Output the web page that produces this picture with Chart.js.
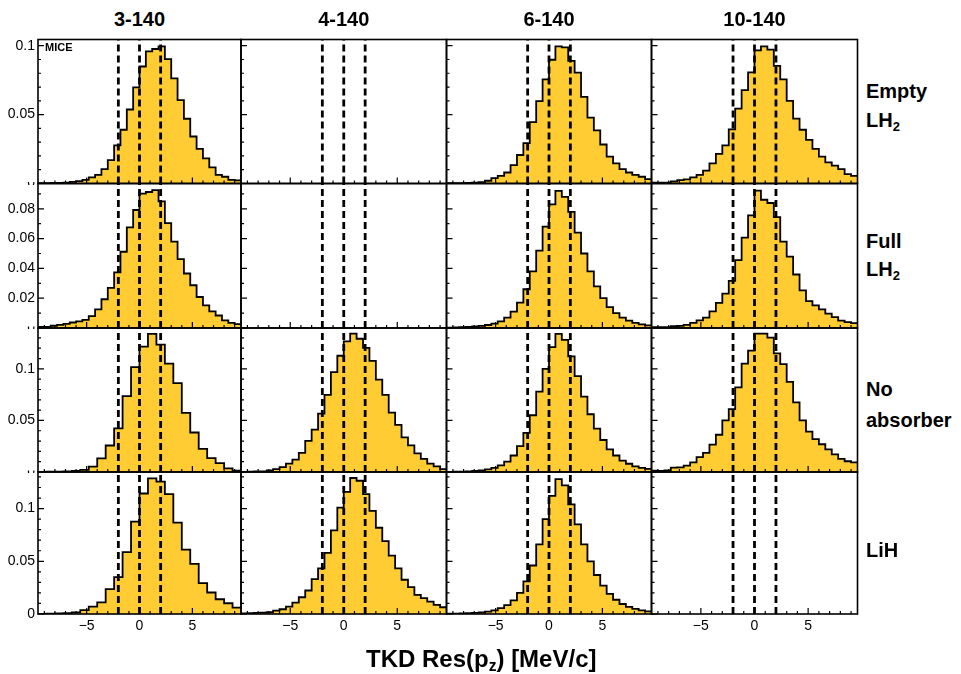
<!DOCTYPE html>
<html><head><meta charset="utf-8">
<script src="https://cdn.jsdelivr.net/npm/chart.js@4.4.1/dist/chart.umd.min.js"></script>
<style>
html,body{margin:0;padding:0;background:#fff;}
#root{position:relative;width:961px;height:674px;overflow:hidden;background:#fff;font-family:"Liberation Sans",Arial,Helvetica,sans-serif;}
canvas{position:absolute;}
.t{position:absolute;font-weight:bold;color:#000;white-space:nowrap;line-height:1;}
.sub{font-size:0.65em;position:relative;top:0.3em;}
</style></head><body><div id="root"></div>
<script>
// ---------------- data ----------------
const columnTitles = ['3-140', '4-140', '6-140', '10-140'];
const rowTitles = [['Empty', 'LH<span class="sub">2</span>'], ['Full', 'LH<span class="sub">2</span>'], ['No', 'absorber'], ['LiH']];
const xAxisTitle = 'TKD Res(p<span class="sub">z</span>) [MeV/c]';
const xRange = [-9.6, 9.6];
const xTickValues = [-5, 0, 5];
const cutValues = [-2, 0, 2];
const yMaxPerRow = [0.1045, 0.097, 0.1396, 0.1347];
const yTicksRow1 = [0, 0.05, 0.1];
const yTicksRow2 = [0, 0.02, 0.04, 0.06, 0.08];
const yTicksRow3 = [0, 0.05, 0.1];
const yTicksRow4 = [0, 0.05, 0.1];
const yMinorStep = [0.01, 0.01, 0.01, 0.01];

// Empty LH2
const empty_3_140 = [0.0002,0.0003,0.0004,0.0005,0.0007,0.0012,0.0017,0.0027,0.0044,0.0063,0.0105,0.017,0.0276,0.039,0.0537,0.0698,0.0849,0.0959,0.0976,0.0995,0.0902,0.0763,0.0605,0.047,0.0341,0.0251,0.0183,0.0117,0.0063,0.0049,0.0027,0.0022];
const empty_6_140 = [0.0002,0.0002,0.0003,0.0005,0.0007,0.001,0.002,0.0039,0.0056,0.008,0.0134,0.0207,0.0293,0.0446,0.0598,0.0756,0.0898,0.0995,0.0988,0.089,0.0805,0.0629,0.0478,0.0385,0.0283,0.0195,0.0146,0.0105,0.008,0.0063,0.0049,0.0032];
const empty_10_140 = [0.0007,0.0006,0.0007,0.0015,0.0024,0.003,0.0044,0.0063,0.0093,0.0146,0.0215,0.0276,0.0393,0.0544,0.0678,0.0807,0.0966,0.0995,0.0971,0.0854,0.0756,0.06,0.0471,0.039,0.0317,0.0251,0.0195,0.0154,0.0129,0.0105,0.0068,0.0056];
// Full LH2
const full_3_140 = [0.0008,0.0008,0.0015,0.0021,0.0028,0.0037,0.0044,0.0055,0.008,0.0125,0.0193,0.0269,0.0373,0.0512,0.0675,0.0792,0.0902,0.0913,0.0925,0.085,0.0704,0.058,0.0463,0.0366,0.0287,0.0208,0.0152,0.0111,0.0084,0.0051,0.0035,0.0026];
const full_6_140 = [0.0003,0.0004,0.0005,0.0007,0.001,0.0014,0.002,0.003,0.0045,0.007,0.011,0.017,0.026,0.038,0.052,0.068,0.083,0.092,0.088,0.078,0.064,0.05,0.038,0.028,0.02,0.014,0.01,0.007,0.005,0.0035,0.0025,0.0018];
const full_10_140 = [0.0005,0.0005,0.0006,0.0012,0.0014,0.0021,0.0035,0.0051,0.0069,0.0111,0.0168,0.0231,0.0316,0.0456,0.0607,0.0756,0.0922,0.0861,0.0839,0.0744,0.058,0.0479,0.0359,0.0253,0.0181,0.0152,0.0125,0.0096,0.0073,0.005,0.0039,0.0033];
// No absorber
const noabs_3_140 = [0.0002,0.0003,0.0004,0.0006,0.001,0.002,0.0053,0.0132,0.0257,0.0422,0.0736,0.1017,0.1215,0.134,0.1234,0.105,0.0861,0.0574,0.0383,0.0224,0.0135,0.0086,0.0036,0.0013];
const noabs_4_140 = [0.0002,0.0003,0.0005,0.0007,0.0015,0.0028,0.0048,0.0081,0.012,0.0186,0.0302,0.0411,0.0566,0.0748,0.0969,0.1127,0.1266,0.1342,0.1292,0.1203,0.1078,0.0896,0.0748,0.0576,0.0457,0.0335,0.0259,0.018,0.0127,0.0081,0.0054,0.0028];
const noabs_6_140 = [0.0002,0.0003,0.0004,0.0006,0.001,0.0016,0.0025,0.004,0.0065,0.01,0.016,0.025,0.038,0.055,0.078,0.1,0.121,0.134,0.128,0.112,0.093,0.073,0.056,0.042,0.031,0.022,0.016,0.011,0.008,0.0055,0.004,0.003];
const noabs_10_140 = [0.0012,0.001,0.0015,0.0043,0.0045,0.0061,0.0094,0.0144,0.0186,0.0266,0.0361,0.05,0.0609,0.082,0.1051,0.1177,0.1342,0.1342,0.1302,0.115,0.1045,0.0873,0.0675,0.05,0.0391,0.0318,0.0269,0.0219,0.017,0.0127,0.0104,0.0094];
// LiH
const lih_3_140 = [0.0002,0.0003,0.0005,0.0008,0.0016,0.0036,0.007,0.0111,0.0236,0.035,0.0586,0.0876,0.1143,0.1287,0.1255,0.1137,0.0866,0.0611,0.0475,0.0293,0.0204,0.014,0.0102,0.006];
const lih_4_140 = [0.0005,0.0007,0.001,0.0013,0.0018,0.0032,0.0045,0.007,0.0108,0.0159,0.0223,0.0331,0.0433,0.058,0.0793,0.101,0.1159,0.129,0.1264,0.1137,0.0978,0.0818,0.0691,0.0554,0.0433,0.0325,0.0255,0.0182,0.015,0.0118,0.0086,0.0064];
const lih_6_140 = [0.0003,0.0004,0.0005,0.0007,0.001,0.0015,0.0022,0.0035,0.0055,0.0085,0.013,0.02,0.031,0.046,0.066,0.09,0.112,0.128,0.122,0.104,0.085,0.066,0.05,0.037,0.027,0.019,0.0135,0.0095,0.0068,0.0048,0.0035,0.0025];

const panelSeries = [
  [empty_3_140, null, empty_6_140, empty_10_140],
  [full_3_140, null, full_6_140, full_10_140],
  [noabs_3_140, noabs_4_140, noabs_6_140, noabs_10_140],
  [lih_3_140, lih_4_140, lih_6_140, null]
];
const yTicksPerRow = [yTicksRow1, yTicksRow2, yTicksRow3, yTicksRow4];

// ---------------- layout / style ----------------
const FONT = '"Liberation Sans", Arial, Helvetica, sans-serif';
const FILL = '#FFCC33';
const colEdges = [38, 241, 446.5, 651.5, 857.5];
const rowEdges = [39.5, 183.5, 328, 472, 614];
const root = document.getElementById('root');

function fmtX(v) { return v < 0 ? '\u2212' + Math.abs(v) : String(v); }
function zeroPad(s) { s.paddingTop = 0; s.paddingBottom = 0; s.paddingLeft = 0; s.paddingRight = 0; }

const rootFrame = {
  id: 'rootFrame',
  beforeDraw(chart, args, o) {
    if (!o.mask) return;
    const {ctx, chartArea: a} = chart;
    ctx.save();
    ctx.fillStyle = '#fff';
    ctx.fillRect(0, 0, a.left - 1, a.top - 1.5);
    ctx.restore();
  },
  afterDraw(chart, args, o) {
    const {ctx, chartArea: a, scales} = chart;
    const x = scales.x, y = scales.y;
    ctx.save();
    ctx.strokeStyle = '#000';
    ctx.lineWidth = 1.2;
    ctx.beginPath();
    for (let i = Math.ceil(x.min); i <= Math.floor(x.max); i++) {
      const px = x.getPixelForValue(i);
      const len = (i % 5 === 0) ? 6 : 3;
      ctx.moveTo(px, a.bottom); ctx.lineTo(px, a.bottom - len);
    }
    const n = Math.floor(y.max / o.minor + 1e-9);
    for (let i = 0; i <= n; i++) {
      const v = i * o.minor;
      const major = o.major.some(m => Math.abs(m - v) < 1e-9);
      const py = y.getPixelForValue(v);
      ctx.moveTo(a.left, py); ctx.lineTo(a.left + (major ? 6 : 3), py);
    }
    ctx.stroke();
    ctx.lineWidth = 1.6;
    ctx.strokeRect(a.left, a.top, a.right - a.left, a.bottom - a.top);
    ctx.restore();
  }
};

for (let r = 0; r < 4; r++) {
  for (let c = 0; c < 4; c++) {
    const L = colEdges[c], R = colEdges[c + 1], T = rowEdges[r], B = rowEdges[r + 1];
    const cx = c === 0 ? 0 : Math.floor(L) - 4;
    const cy = Math.floor(T) - 6;
    const cRight = Math.ceil(R) + 4;
    const cBottom = r === 3 ? 652 : Math.ceil(B) + 1;
    const cw = cRight - cx, ch = cBottom - cy;
    const cv = document.createElement('canvas');
    cv.width = cw; cv.height = ch;
    cv.style.left = cx + 'px'; cv.style.top = cy + 'px';
    cv.style.width = cw + 'px'; cv.style.height = ch + 'px';
    root.appendChild(cv);

    const yMax = yMaxPerRow[r];
    const datasets = [];
    const values = panelSeries[r][c];
    if (values) {
      const nb = values.length;
      const w = (xRange[1] - xRange[0]) / nb;
      const pts = values.map((v, i) => ({x: xRange[0] + i * w, y: v}));
      pts.push({x: xRange[1], y: values[nb - 1]});
      datasets.push({
        type: 'line', data: pts, stepped: true, fill: 'origin',
        backgroundColor: FILL, borderColor: '#000', borderWidth: 1.8,
        pointRadius: 0, order: 2, borderJoinStyle: 'miter'
      });
    }
    cutValues.forEach(cv2 => {
      datasets.push({
        type: 'line', data: [{x: cv2, y: 0}, {x: cv2, y: yMax}],
        borderColor: '#000', borderWidth: 2.8, borderDash: [7, 4],
        pointRadius: 0, fill: false, order: 1
      });
    });

    const showX = r === 3, showY = c === 0;
    new Chart(cv, {
      type: 'line',
      data: {datasets},
      plugins: [rootFrame],
      options: {
        responsive: false, animation: false, devicePixelRatio: 1, events: [],
        layout: {
          autoPadding: false,
          padding: {left: showY ? 0 : L - cx, top: T - cy, right: cRight - R, bottom: showX ? 0 : cBottom - B}
        },
        plugins: {legend: {display: false}, tooltip: {enabled: false},
          rootFrame: {minor: yMinorStep[r], major: yTicksPerRow[r], mask: c === 0 && r > 0}},
        scales: {
          x: {
            type: 'linear', min: xRange[0], max: xRange[1], display: showX,
            grid: {display: false, drawTicks: false}, border: {display: false},
            ticks: {font: {family: FONT, size: 14}, color: '#000', padding: 4, autoSkip: false, maxRotation: 0,
              callback: v => fmtX(v)},
            afterBuildTicks: s => { s.ticks = xTickValues.map(v => ({value: v})); },
            afterFit: s => { zeroPad(s); if (showX) s.height = cBottom - B; }
          },
          y: {
            type: 'linear', min: 0, max: yMax, display: showY,
            grid: {display: false, drawTicks: false}, border: {display: false},
            ticks: {font: {family: FONT, size: 14}, color: '#000', padding: 3, autoSkip: false,
              callback: v => String(v)},
            afterBuildTicks: s => { s.ticks = yTicksPerRow[r].map(v => ({value: v})); },
            afterFit: s => { zeroPad(s); if (showY) s.width = L - cx; }
          }
        }
      }
    });
  }
}

// ---------------- text ----------------
function addText(html, x, baseline, size, center) {
  const d = document.createElement('div');
  d.className = 't';
  d.style.fontSize = size + 'px';
  d.innerHTML = html;
  d.style.top = (baseline - 0.8465 * size) + 'px';
  d.style.left = x + 'px';
  if (center) d.style.transform = 'translateX(-50%)';
  root.appendChild(d);
}
columnTitles.forEach((t, i) => addText(t, (colEdges[i] + colEdges[i + 1]) / 2, 26, 20, true));
const rowBaselines = [[98, 127], [248, 276], [396, 427], [557]];
rowTitles.forEach((lines, r) => lines.forEach((t, j) => addText(t, 866, rowBaselines[r][j], 20, false)));
addText(xAxisTitle, 366, 667, 24, false);
addText('MICE', 45, 51, 11, false);
</script></body></html>
